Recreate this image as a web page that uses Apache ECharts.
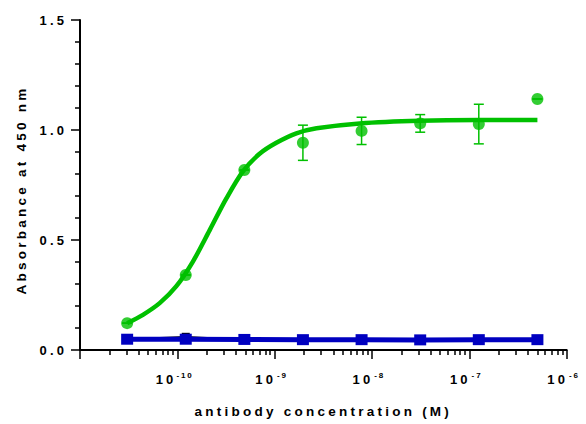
<!DOCTYPE html>
<html><head><meta charset="utf-8">
<script src="https://cdn.jsdelivr.net/npm/echarts@6/dist/echarts.min.js"></script>
<style>
html,body{margin:0;padding:0;background:#fff;}
#c{width:586px;height:424px;}
#c svg text{letter-spacing:0.24em;}
</style></head><body><div id="c"></div>
<script>
// antibody concentrations (M), 4-fold dilutions
const conc = [3.05e-11, 1.22e-10, 4.88e-10, 1.95e-9, 7.81e-9, 3.125e-8, 1.25e-7, 5e-7];
const greenMean = [0.122, 0.341, 0.818, 0.942, 0.996, 1.030, 1.027, 1.141];
const greenSD   = [0, 0, 0, 0.080, 0.062, 0.040, 0.090, 0];
const blueMean  = [0.049, 0.049, 0.048, 0.047, 0.047, 0.046, 0.047, 0.047];
const blackMean = [0.050, 0.060, 0.048, 0.047, 0.047, 0.046, 0.047, 0.047];
// fitted curve
const fitConc = [3.05e-11, 4.43e-11, 6.58e-11, 9.77e-11, 1.445e-10, 2.15e-10, 3.19e-10, 4.72e-10, 7.0e-10, 1.04e-9, 1.67e-9, 2.69e-9, 7.48e-9, 3.09e-8, 1.28e-7, 5e-7];
const fitAbs  = [0.122, 0.160, 0.213, 0.290, 0.402, 0.545, 0.689, 0.812, 0.892, 0.942, 0.985, 1.008, 1.030, 1.042, 1.045, 1.045];
const yTickLabels = ['0.0', '0.5', '1.0', '1.5'];

const FONT = '"Liberation Sans", Arial, sans-serif';
const GREEN = '#00c000', BLUE = '#0000c0';
const toPM = c => c * 1e12; // axis works in pM internally, labels show molar

const chart = echarts.init(document.getElementById('c'), null, {renderer: 'svg'});
chart.setOption({
  animation: false,
  backgroundColor: '#fff',
  grid: {left: 80, right: 19, top: 20, bottom: 74},
  xAxis: {
    type: 'log', logBase: 10, min: 10, max: 1e6,
    axisLine: {show: true, onZero: false, lineStyle: {color: '#000', width: 2}},
    axisTick: {show: true, length: 9, lineStyle: {color: '#000', width: 1.5}},
    minorTick: {show: true, splitNumber: 9, length: 5, lineStyle: {color: '#000', width: 1.5}},
    splitLine: {show: false}, minorSplitLine: {show: false},
    axisLabel: {
      showMinLabel: false, margin: 21,
      formatter: v => '{b|10}{s|' + (Math.round(Math.log10(v)) - 12) + '}',
      rich: {
        b: {fontSize: 13, fontWeight: 'bold', fontFamily: FONT, color: '#000', lineHeight: 17},
        s: {fontSize: 8, fontWeight: 'bold', fontFamily: FONT, color: '#000', lineHeight: 10, verticalAlign: 'top', padding: [0, 5, 0, 6]}
      }
    },
    name: 'antibody concentration (M)', nameLocation: 'middle', nameGap: 54,
    nameTextStyle: {fontSize: 13.5, fontWeight: 'bold', fontFamily: FONT, color: '#000'}
  },
  yAxis: {
    type: 'value', min: 0, max: 1.5, interval: 0.5,
    axisLine: {show: true, lineStyle: {color: '#000', width: 2}},
    axisTick: {show: true, length: 9, lineStyle: {color: '#000', width: 1.5}},
    minorTick: {show: true, splitNumber: 5, length: 5, lineStyle: {color: '#000', width: 1.5}},
    splitLine: {show: false},
    axisLabel: {margin: 13, formatter: (v, i) => yTickLabels[i], fontSize: 13, fontWeight: 'bold', fontFamily: FONT, color: '#000'},
    name: 'Absorbance at 450 nm', nameLocation: 'middle', nameGap: 52, nameRotate: 90,
    nameTextStyle: {fontSize: 13.5, fontWeight: 'bold', fontFamily: FONT, color: '#000', padding: [0, 10, 0, 0]}
  },
  series: [
    {
      type: 'custom', z: 1,
      data: conc.map((c, i) => [toPM(c), greenMean[i] - greenSD[i], greenMean[i] + greenSD[i]]),
      renderItem: (params, api) => {
        const x = api.value(0);
        const lo = api.coord([x, api.value(1)]), hi = api.coord([x, api.value(2)]);
        const hw = 5, st = {stroke: GREEN, lineWidth: 1.5};
        return {type: 'group', children: [
          {type: 'line', shape: {x1: lo[0], y1: lo[1], x2: hi[0], y2: hi[1]}, style: st},
          {type: 'line', shape: {x1: lo[0] - hw, y1: lo[1], x2: lo[0] + hw, y2: lo[1]}, style: st},
          {type: 'line', shape: {x1: hi[0] - hw, y1: hi[1], x2: hi[0] + hw, y2: hi[1]}, style: st}
        ]};
      }
    },
    {
      type: 'scatter', z: 2, symbol: 'circle', symbolSize: 12,
      itemStyle: {color: GREEN},
      data: conc.map((c, i) => [toPM(c), greenMean[i]])
    },
    {
      type: 'line', z: 3, smooth: 0.3, showSymbol: false, symbol: 'none',
      lineStyle: {color: GREEN, width: 4.5},
      data: fitConc.map((c, i) => [toPM(c), fitAbs[i]])
    },
    {
      type: 'line', z: 4, symbol: 'rect', symbolSize: 8,
      itemStyle: {color: '#000'}, lineStyle: {color: '#000', width: 1.5},
      data: conc.map((c, i) => [toPM(c), blackMean[i]])
    },
    {
      type: 'line', z: 5, symbol: 'rect', symbolSize: [12, 11],
      itemStyle: {color: BLUE}, lineStyle: {color: BLUE, width: 5},
      data: conc.map((c, i) => [toPM(c), blueMean[i]])
    }
  ]
});
</script></body></html>
